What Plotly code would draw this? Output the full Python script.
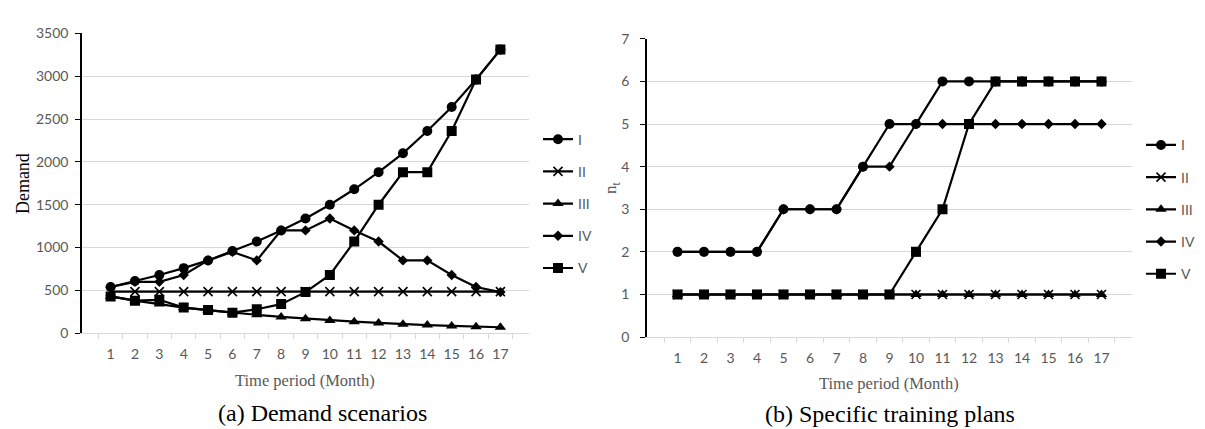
import plotly.graph_objects as go

# ---------------- data ----------------
periods = list(range(1, 18))
series_names = ["I", "II", "III", "IV", "V"]

demand_I = [540, 610, 680, 760, 850, 960, 1070, 1200, 1340, 1500, 1680, 1880, 2100, 2360, 2640, 2960, 3310]
demand_II = [485, 485, 485, 485, 485, 485, 485, 485, 485, 485, 485, 485, 485, 485, 485, 485, 485]
demand_III = [430, 380, 340, 300, 270, 240, 215, 190, 170, 150, 135, 120, 105, 95, 85, 75, 70]
demand_IV = [540, 600, 600, 680, 850, 950, 850, 1200, 1200, 1340, 1200, 1070, 850, 850, 680, 540, 480]
demand_V = [430, 380, 390, 300, 270, 240, 280, 340, 480, 680, 1070, 1500, 1880, 1880, 2360, 2960, 3310]

plan_I = [2, 2, 2, 2, 3, 3, 3, 4, 5, 5, 6, 6, 6, 6, 6, 6, 6]
plan_II = [1, 1, 1, 1, 1, 1, 1, 1, 1, 1, 1, 1, 1, 1, 1, 1, 1]
plan_III = [1, 1, 1, 1, 1, 1, 1, 1, 1, 1, 1, 1, 1, 1, 1, 1, 1]
plan_IV = [2, 2, 2, 2, 3, 3, 3, 4, 4, 5, 5, 5, 5, 5, 5, 5, 5]
plan_V = [1, 1, 1, 1, 1, 1, 1, 1, 1, 2, 3, 5, 6, 6, 6, 6, 6]

demand_ticks = [0, 500, 1000, 1500, 2000, 2500, 3000, 3500]
plan_ticks = [0, 1, 2, 3, 4, 5, 6, 7]

# ---------------- styling ----------------
W, H = 1205, 429
SANS = "Lato, Open Sans, sans-serif"
TICK_FONT = dict(family=SANS, size=14, color="#595959")
SERIF = "Liberation Serif, Times New Roman, serif"
GRID = "#d9d9d9"

markers = {
    "I": dict(symbol="circle", size=10),
    "II": dict(symbol="x-thin", size=9, line=dict(width=1.6, color="black")),
    "III": dict(symbol="triangle-up", size=10),
    "IV": dict(symbol="diamond", size=8),
    "V": dict(symbol="square", size=10),
}

fig = go.Figure()

demand_sets = [demand_I, demand_II, demand_III, demand_IV, demand_V]
plan_sets = [plan_I, plan_II, plan_III, plan_IV, plan_V]

for name, ys in zip(series_names, demand_sets):
    fig.add_trace(go.Scatter(
        x=periods, y=ys, name=name, mode="lines+markers",
        line=dict(color="black", width=2.2),
        marker=dict(color="black", **markers[name]),
        xaxis="x", yaxis="y", legend="legend", legendgroup="a" + name,
    ))

for name, ys in zip(series_names, plan_sets):
    fig.add_trace(go.Scatter(
        x=periods, y=ys, name=name, mode="lines+markers",
        line=dict(color="black", width=2.2),
        marker=dict(color="black", **markers[name]),
        xaxis="x2", yaxis="y2", legend="legend2", legendgroup="b" + name,
    ))

def px_x(p):
    return p / W

def px_y(p):
    return 1 - p / H

xaxis_common = dict(
    type="category", tickson="boundaries", ticks="outside", ticklen=5,
    tickcolor=GRID, showline=True, linecolor=GRID, linewidth=1,
    showgrid=False, tickfont=TICK_FONT, zeroline=False, tickangle=0,
    ticklabelstandoff=8,
)
yaxis_common = dict(
    showline=True, linecolor="black", linewidth=1.5, ticks="outside",
    ticklen=5, tickcolor="black", showgrid=True, gridcolor=GRID,
    gridwidth=1, zeroline=False, tickfont=TICK_FONT,
)

legend_common = dict(
    font=dict(family=SANS, size=14, color="#595959"),
    bgcolor="rgba(0,0,0,0)", tracegroupgap=11, itemwidth=30,
    xanchor="left", yanchor="top",
)

fig.update_layout(
    width=W, height=H,
    margin=dict(l=0, r=0, t=0, b=0),
    paper_bgcolor="white", plot_bgcolor="white",
    showlegend=True,
    xaxis=dict(domain=[px_x(74), px_x(521)], anchor="y", **xaxis_common),
    yaxis=dict(domain=[px_y(329.3), px_y(17)], anchor="x", range=[0, 3500],
               tickvals=demand_ticks, ticklabelstandoff=4, **yaxis_common),
    xaxis2=dict(domain=[px_x(639), px_x(1124)], anchor="y2", **xaxis_common),
    yaxis2=dict(domain=[px_y(333.3), px_y(22.7)], anchor="x2", range=[0, 7],
                tickvals=plan_ticks, ticklabelstandoff=8, **yaxis_common),
    legend=dict(x=px_x(530), y=px_y(111), **legend_common),
    legend2=dict(x=px_x(1133), y=px_y(117), **legend_common),
)

annotations = [
    dict(text="Demand", x=px_x(15), y=px_y(174), textangle=-90,
         font=dict(family=SERIF, size=18, color="black")),
    dict(text="n<sub>t</sub>", x=px_x(604), y=px_y(178), textangle=-90,
         font=dict(family=SERIF, size=17, color="#595959")),
    dict(text="Time period (Month)", x=px_x(297), y=px_y(378),
         font=dict(family=SERIF, size=16.5, color="#595959")),
    dict(text="Time period (Month)", x=px_x(881), y=px_y(382),
         font=dict(family=SERIF, size=16.5, color="#595959")),
    dict(text="(a) Demand scenarios", x=px_x(314), y=px_y(412),
         font=dict(family=SERIF, size=24, color="black")),
    dict(text="(b) Specific training plans", x=px_x(882), y=px_y(413),
         font=dict(family=SERIF, size=24, color="black")),
]
for a in annotations:
    a.update(xref="paper", yref="paper", showarrow=False, xanchor="center", yanchor="middle")
fig.update_layout(annotations=annotations)

fig.write_html("out.html")
